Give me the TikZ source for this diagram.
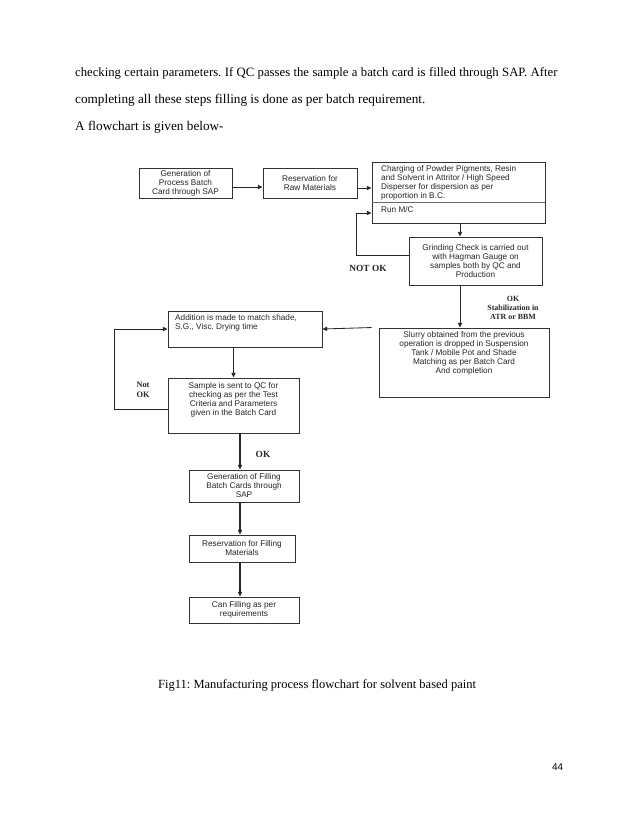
\documentclass[tikz,border=0pt]{standalone}
\usepackage{fontspec}
\setmainfont{Liberation Serif}
\setsansfont{Liberation Sans}
\usetikzlibrary{arrows.meta,calc}
\frenchspacing
\begin{document}
\begin{tikzpicture}[x=0.96pt,y=-0.96pt,
  box/.style={draw=black!80, line width=0.9pt, inner sep=0pt, font=\fontsize{7.9}{8.6}\selectfont\sffamily, text=black!85, align=center},
  ft/.style={font=\fontsize{7.9}{8.6}\selectfont\sffamily, text=black!85, inner sep=0pt},
  lbl/.style={font=\fontsize{8}{8.5}\selectfont\bfseries, text=black!85, align=center, inner sep=0pt},
  body/.style={font=\fontsize{12.7}{15}\selectfont, inner sep=0pt, anchor=base west},
  arr/.style={-{Triangle[length=4.5pt,width=4pt]}, line width=0.8pt, draw=black!85},
  thk/.style={arr, line width=1.4pt}]
\useasboundingbox[fill=white] (0,0) rectangle (638,826);

% body text
\node[body, font=\fontsize{12.2}{15}\selectfont] (t1) at (75,77) {\makebox[463pt][s]{checking certain parameters. If QC passes the sample a batch card is filled through SAP. After}};
\node[body] (t2) at (75,104) {completing all these steps filling is done as per batch requirement.};
\node[body] (t3) at (75,131) {A flowchart is given below-};

% boxes
\node[box, minimum width=93*0.96pt, minimum height=30*0.96pt] (b1) at (185.5,183) {Generation of\\Process Batch\\Card through SAP};
\node[box, minimum width=94*0.96pt, minimum height=30*0.96pt] (b2) at (310,183) {Reservation for\\Raw Materials};
\node[box, minimum width=173*0.96pt, minimum height=61*0.96pt] (b3) at (458.5,192.5) {};
\node[ft, anchor=north west, align=left] (b3t) at (381,165) {Charging of Powder Pigments, Resin\\and Solvent in Attritor / High Speed\\Disperser for dispersion as per\\proportion in B.C.};
\draw[black!60, line width=0.6pt] ($(b3.north west)+(0,41)$) -- ($(b3.north east)+(0,41)$);
\node[ft, anchor=north west] (b3r) at (381,206) {Run M/C};

\node[box, minimum width=133*0.96pt, minimum height=48*0.96pt] (grind) at (475.5,261) {Grinding Check is carried out\\with Hagman Gauge on\\samples both by QC and\\Production};

\node[box, minimum width=170*0.96pt, minimum height=69*0.96pt] (slurry) at (464,362.5) {};
\node[ft, anchor=north, align=center] (slurryt) at (464,331) {Slurry obtained from the previous\\operation is dropped in Suspension\\Tank / Mobile Pot and Shade\\Matching as per Batch Card\\And completion};

\node[box, minimum width=154*0.96pt, minimum height=36*0.96pt] (add) at (245,329) {};
\node[ft, anchor=north west, align=left] (addt) at (175,314) {Addition is made to match shade,\\S.G., Visc. Drying time};

\node[box, minimum width=131*0.96pt, minimum height=55*0.96pt] (sample) at (233.5,405.5) {};
\node[ft, anchor=north, align=center] (samplet) at (233.5,382) {Sample is sent to QC for\\checking as per the Test\\Criteria and Parameters\\given in the Batch Card};

\node[box, minimum width=110*0.96pt, minimum height=32*0.96pt] (fgen) at (244,486) {Generation of Filling\\Batch Cards through\\SAP};
\node[box, minimum width=106*0.96pt, minimum height=27*0.96pt] (rfill) at (242,548.5) {Reservation for Filling\\Materials};
\node[box, minimum width=110*0.96pt, minimum height=26*0.96pt] (can) at (244,610) {Can Filling as per\\requirements};

% labels
\node[lbl, font=\fontsize{9}{9}\selectfont\bfseries] (notok) at (368,268) {NOT OK};
\node[lbl, font=\fontsize{7.6}{8.4}\selectfont\bfseries] (okstab) at (513,308) {OK\\Stabilization in\\ATR or BBM};
\node[lbl, font=\fontsize{8}{9.5}\selectfont\bfseries] (notok2) at (143,390) {Not\\OK};
\node[lbl, font=\fontsize{9}{9}\selectfont\bfseries] (ok2) at (263,454) {OK};

% connectors
\draw[arr] ($(b1.east)+(0,4)$) -- ($(b2.west)+(0,4)$);
\draw[arr] ($(b2.east)+(0,5)$) -- ($(b3.west)+(0,-4.5)$);
\coordinate (c1) at (460,0);
\draw[arr] (b3.south -| c1) -- (grind.north -| c1);
\draw[arr] ($(grind.west)+(0,-6)$) -- ++(-52,0) |- ($(b3.west)+(0,20.5)$);
\draw[arr] (grind.south -| c1) -- (slurry.north -| c1);
\draw[arr] ($(slurry.north west)+(-7,0)$) -- (add.east);
\draw[thk] (add.south -| sample.north) -- (sample.north);
\draw[arr] ($(sample.west)+(0,3.5)$) -- ++(-53,0) |- (add.west);
\coordinate (c2) at (240,0);
\draw[thk] (sample.south -| c2) -- (fgen.north -| c2);
\draw[thk] (fgen.south -| c2) -- (rfill.north -| c2);
\draw[thk] (rfill.south -| c2) -- (can.north -| c2);

% caption and page number
\node[body, font=\fontsize{12}{14}\selectfont] (cap) at (158,688) {Fig11: Manufacturing process flowchart for solvent based paint};
\node[body, font=\fontsize{9.5}{10}\selectfont\sffamily] (pg) at (552,770) {44};
\end{tikzpicture}
\end{document}
